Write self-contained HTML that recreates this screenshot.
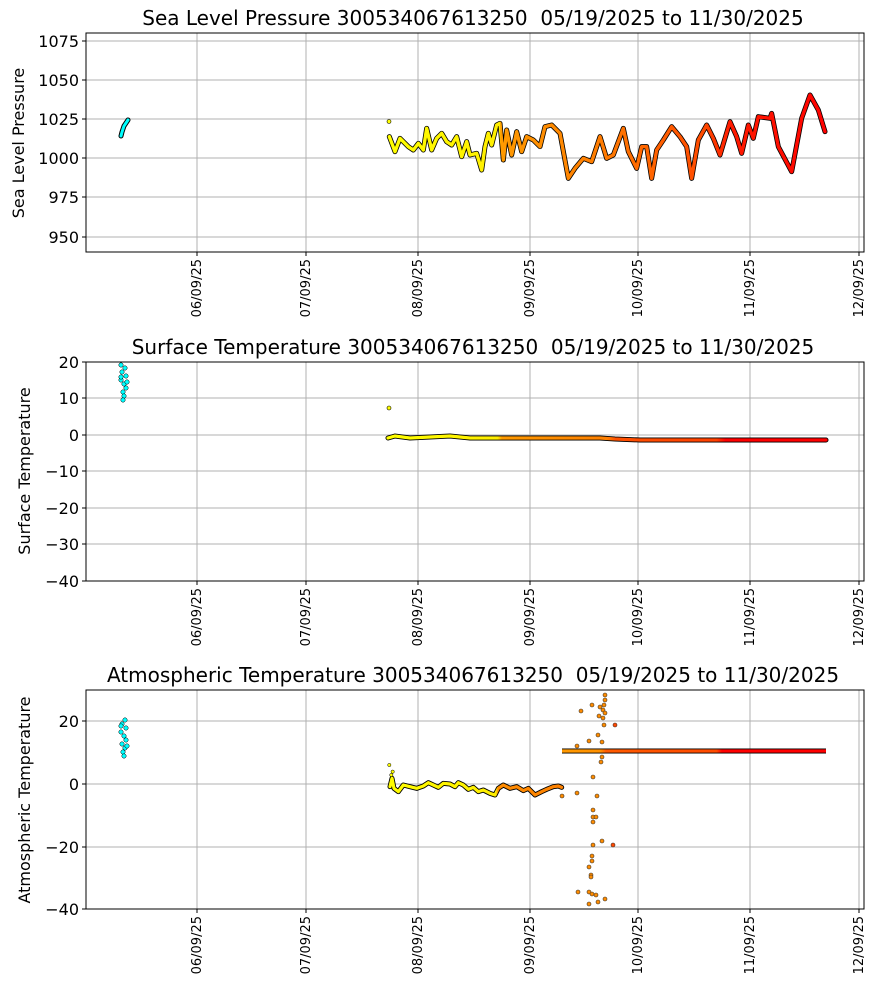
<!DOCTYPE html>
<html><head><meta charset="utf-8"><style>
body{margin:0;background:#fff;}
svg{display:block;font-family:"DejaVu Sans","Liberation Sans",sans-serif;}
.g{stroke:#b0b0b0;stroke-width:1;}
.tk{stroke:#000;stroke-width:1;}
.t{font-size:16px;fill:#000;}
.xt{font-size:13px;fill:#000;}
.ttl{font-size:20px;fill:#000;white-space:pre;}
.yl{font-size:16px;fill:#000;}
</style></head><body>
<svg width="877" height="992" viewBox="0 0 877 992" xmlns="http://www.w3.org/2000/svg" xml:space="preserve">
<defs>
<linearGradient id="cg3" gradientUnits="userSpaceOnUse" x1="560" y1="0" x2="830" y2="0">
<stop offset="0" stop-color="#ff9a00"/><stop offset="0.15" stop-color="#ff9000"/>
<stop offset="0.17" stop-color="#ff5a00"/><stop offset="0.58" stop-color="#ff4a00"/>
<stop offset="0.6" stop-color="#ff0000"/><stop offset="1" stop-color="#ff0000"/></linearGradient>
<linearGradient id="cg1z" gradientUnits="userSpaceOnUse" x1="30" y1="0" x2="1380" y2="0">
<stop offset="0" stop-color="#ffff00"/><stop offset="0.266" stop-color="#ffee00"/>
<stop offset="0.268" stop-color="#ff9a00"/><stop offset="0.5" stop-color="#ff7a00"/>
<stop offset="0.72" stop-color="#ff4a00"/><stop offset="0.78" stop-color="#ff1a00"/>
<stop offset="1" stop-color="#ff0000"/></linearGradient>
<linearGradient id="cg2" gradientUnits="userSpaceOnUse" x1="388" y1="0" x2="826" y2="0">
<stop offset="0" stop-color="#ffff00"/><stop offset="0.25" stop-color="#ffee00"/>
<stop offset="0.26" stop-color="#ff9a00"/><stop offset="0.5" stop-color="#ff8000"/>
<stop offset="0.52" stop-color="#ff5000"/><stop offset="0.75" stop-color="#ff4000"/>
<stop offset="0.77" stop-color="#ff0000"/><stop offset="1" stop-color="#ff0000"/></linearGradient>
<linearGradient id="cg3z" gradientUnits="userSpaceOnUse" x1="0" y1="0" x2="600" y2="0">
<stop offset="0" stop-color="#ffff00"/><stop offset="0.63" stop-color="#ffee00"/>
<stop offset="0.64" stop-color="#ff8c00"/><stop offset="1" stop-color="#ff8000"/></linearGradient>
</defs>
<rect width="877" height="992" fill="#fff"/>

<!-- ===== Plot 1 ===== -->
<g>
<g class="g">
<line x1="197" y1="33" x2="197" y2="252"/><line x1="306" y1="33" x2="306" y2="252"/>
<line x1="418" y1="33" x2="418" y2="252"/><line x1="530" y1="33" x2="530" y2="252"/>
<line x1="638" y1="33" x2="638" y2="252"/><line x1="750" y1="33" x2="750" y2="252"/>
<line x1="859" y1="33" x2="859" y2="252"/>
<line x1="86" y1="41" x2="864" y2="41"/><line x1="86" y1="80" x2="864" y2="80"/>
<line x1="86" y1="119" x2="864" y2="119"/><line x1="86" y1="158" x2="864" y2="158"/>
<line x1="86" y1="197" x2="864" y2="197"/><line x1="86" y1="237" x2="864" y2="237"/>
</g>
<g class="tk">
<line x1="197" y1="252" x2="197" y2="256"/><line x1="306" y1="252" x2="306" y2="256"/>
<line x1="418" y1="252" x2="418" y2="256"/><line x1="530" y1="252" x2="530" y2="256"/>
<line x1="638" y1="252" x2="638" y2="256"/><line x1="750" y1="252" x2="750" y2="256"/>
<line x1="859" y1="252" x2="859" y2="256"/>
<line x1="82" y1="41" x2="86" y2="41"/><line x1="82" y1="80" x2="86" y2="80"/>
<line x1="82" y1="119" x2="86" y2="119"/><line x1="82" y1="158" x2="86" y2="158"/>
<line x1="82" y1="197" x2="86" y2="197"/><line x1="82" y1="237" x2="86" y2="237"/>
</g>
<polyline points="121,136 122,132 123,129 124,126 126,123 128,120" fill="none" stroke="#000" stroke-width="5" stroke-linecap="round"/>
<polyline points="121,136 122,132 123,129 124,126 126,123 128,120" fill="none" stroke="#00ffff" stroke-width="3" stroke-linecap="round"/>
<circle cx="389" cy="121.5" r="2" fill="#ffff00" stroke="#000" stroke-width="0.6"/>
<g transform="translate(370,80) scale(0.33333)">
<polyline fill="none" stroke="#000" stroke-width="5" vector-effect="non-scaling-stroke" stroke-linejoin="round" stroke-linecap="round" points="58,170 75,215 90,175 115,200 130,210 145,190 160,210 170,145 185,210 200,175 215,160 230,185 245,195 260,170 275,230 290,185 300,225 320,220 335,270 345,200 355,160 365,195 380,135 390,130 400,240 410,150 425,225 440,155 455,215 470,170 490,180 510,200 525,140 545,135 570,160 595,295 615,265 640,235 665,245 690,170 710,235 730,225 760,145 775,215 800,265 815,200 830,200 845,295 860,210 880,180 905,140 930,170 950,200 965,295 985,180 1010,135 1030,175 1050,225 1080,125 1100,170 1115,220 1135,135 1150,175 1165,110 1200,115 1205,100 1225,200 1265,275 1295,115 1320,45 1345,90 1365,155"/>
<polyline fill="none" stroke="url(#cg1z)" stroke-width="3.4" vector-effect="non-scaling-stroke" stroke-linejoin="round" stroke-linecap="round" points="58,170 75,215 90,175 115,200 130,210 145,190 160,210 170,145 185,210 200,175 215,160 230,185 245,195 260,170 275,230 290,185 300,225 320,220 335,270 345,200 355,160 365,195 380,135 390,130 400,240 410,150 425,225 440,155 455,215 470,170 490,180 510,200 525,140 545,135 570,160 595,295 615,265 640,235 665,245 690,170 710,235 730,225 760,145 775,215 800,265 815,200 830,200 845,295 860,210 880,180 905,140 930,170 950,200 965,295 985,180 1010,135 1030,175 1050,225 1080,125 1100,170 1115,220 1135,135 1150,175 1165,110 1200,115 1205,100 1225,200 1265,275 1295,115 1320,45 1345,90 1365,155"/>
</g>
<rect x="86" y="33" width="778" height="219" fill="none" stroke="#000" stroke-width="1"/>
<g class="t" text-anchor="end">
<text x="79" y="47">1075</text><text x="79" y="86">1050</text><text x="79" y="125">1025</text>
<text x="79" y="164">1000</text><text x="79" y="203">975</text><text x="79" y="243">950</text>
</g>
<text class="yl" transform="translate(24,143) rotate(-90)" text-anchor="middle">Sea Level Pressure</text>
<text class="ttl" x="473" y="25" text-anchor="middle">Sea Level Pressure 300534067613250  05/19/2025 to 11/30/2025</text>
<g class="xt" text-anchor="end">
<text transform="translate(201,259) rotate(-90)">06/09/25</text>
<text transform="translate(310,259) rotate(-90)">07/09/25</text>
<text transform="translate(422,259) rotate(-90)">08/09/25</text>
<text transform="translate(534,259) rotate(-90)">09/09/25</text>
<text transform="translate(642,259) rotate(-90)">10/09/25</text>
<text transform="translate(754,259) rotate(-90)">11/09/25</text>
<text transform="translate(863,259) rotate(-90)">12/09/25</text>
</g>
</g>

<!-- ===== Plot 2 ===== -->
<g>
<g class="g">
<line x1="197" y1="362" x2="197" y2="581"/><line x1="306" y1="362" x2="306" y2="581"/>
<line x1="418" y1="362" x2="418" y2="581"/><line x1="530" y1="362" x2="530" y2="581"/>
<line x1="638" y1="362" x2="638" y2="581"/><line x1="750" y1="362" x2="750" y2="581"/>
<line x1="859" y1="362" x2="859" y2="581"/>
<line x1="86" y1="398" x2="864" y2="398"/><line x1="86" y1="435" x2="864" y2="435"/>
<line x1="86" y1="471" x2="864" y2="471"/><line x1="86" y1="508" x2="864" y2="508"/>
<line x1="86" y1="544" x2="864" y2="544"/>
</g>
<g class="tk">
<line x1="197" y1="581" x2="197" y2="585"/><line x1="306" y1="581" x2="306" y2="585"/>
<line x1="418" y1="581" x2="418" y2="585"/><line x1="530" y1="581" x2="530" y2="585"/>
<line x1="638" y1="581" x2="638" y2="585"/><line x1="750" y1="581" x2="750" y2="585"/>
<line x1="859" y1="581" x2="859" y2="585"/>
<line x1="82" y1="362" x2="86" y2="362"/><line x1="82" y1="398" x2="86" y2="398"/>
<line x1="82" y1="435" x2="86" y2="435"/><line x1="82" y1="471" x2="86" y2="471"/>
<line x1="82" y1="508" x2="86" y2="508"/><line x1="82" y1="544" x2="86" y2="544"/>
<line x1="82" y1="581" x2="86" y2="581"/>
</g>
<g fill="#00ffff" stroke="#000" stroke-width="0.5">
<circle cx="121" cy="365" r="2.2"/><circle cx="125" cy="368" r="2.2"/><circle cx="122" cy="372" r="2.2"/>
<circle cx="126" cy="376" r="2.2"/><circle cx="121" cy="380" r="2.2"/><circle cx="124" cy="384" r="2.2"/>
<circle cx="126" cy="388" r="2.2"/><circle cx="123" cy="392" r="2.2"/><circle cx="124" cy="396" r="2.2"/>
<circle cx="123" cy="400" r="2.2"/><circle cx="121" cy="377" r="2.2"/><circle cx="127" cy="382" r="2.2"/>
</g>
<circle cx="389" cy="408" r="2" fill="#ffff00" stroke="#000" stroke-width="0.6"/>
<polyline points="388,438 395,436 410,438 430,437 450,436 470,438 500,438 530,438 560,438 600,438 615,439 640,440 700,440 760,440 826,440" fill="none" stroke="#000" stroke-width="5" stroke-linecap="round"/>
<polyline points="388,438 395,436 410,438 430,437 450,436 470,438 500,438 530,438 560,438 600,438 615,439 640,440 700,440 760,440 826,440" fill="none" stroke="url(#cg2)" stroke-width="3.2" stroke-linecap="round"/>
<rect x="86" y="362" width="778" height="219" fill="none" stroke="#000" stroke-width="1"/>
<g class="t" text-anchor="end">
<text x="79" y="368">20</text><text x="79" y="404">10</text><text x="79" y="441">0</text>
<text x="79" y="477">−10</text><text x="79" y="514">−20</text><text x="79" y="550">−30</text><text x="79" y="587">−40</text>
</g>
<text class="yl" transform="translate(30,471) rotate(-90)" text-anchor="middle">Surface Temperature</text>
<text class="ttl" x="473" y="354" text-anchor="middle">Surface Temperature 300534067613250  05/19/2025 to 11/30/2025</text>
<g class="xt" text-anchor="end">
<text transform="translate(201,588) rotate(-90)">06/09/25</text>
<text transform="translate(310,588) rotate(-90)">07/09/25</text>
<text transform="translate(422,588) rotate(-90)">08/09/25</text>
<text transform="translate(534,588) rotate(-90)">09/09/25</text>
<text transform="translate(642,588) rotate(-90)">10/09/25</text>
<text transform="translate(754,588) rotate(-90)">11/09/25</text>
<text transform="translate(863,588) rotate(-90)">12/09/25</text>
</g>
</g>

<!-- ===== Plot 3 ===== -->
<g>
<g class="g">
<line x1="197" y1="690" x2="197" y2="909"/><line x1="306" y1="690" x2="306" y2="909"/>
<line x1="418" y1="690" x2="418" y2="909"/><line x1="530" y1="690" x2="530" y2="909"/>
<line x1="638" y1="690" x2="638" y2="909"/><line x1="750" y1="690" x2="750" y2="909"/>
<line x1="859" y1="690" x2="859" y2="909"/>
<line x1="86" y1="721" x2="864" y2="721"/><line x1="86" y1="784" x2="864" y2="784"/>
<line x1="86" y1="847" x2="864" y2="847"/>
</g>
<g class="tk">
<line x1="197" y1="909" x2="197" y2="913"/><line x1="306" y1="909" x2="306" y2="913"/>
<line x1="418" y1="909" x2="418" y2="913"/><line x1="530" y1="909" x2="530" y2="913"/>
<line x1="638" y1="909" x2="638" y2="913"/><line x1="750" y1="909" x2="750" y2="913"/>
<line x1="859" y1="909" x2="859" y2="913"/>
<line x1="82" y1="721" x2="86" y2="721"/><line x1="82" y1="784" x2="86" y2="784"/>
<line x1="82" y1="847" x2="86" y2="847"/><line x1="82" y1="909" x2="86" y2="909"/>
</g>
<g fill="#00ffff" stroke="#000" stroke-width="0.5">
<circle cx="125" cy="720" r="2.2"/><circle cx="122" cy="724" r="2.2"/><circle cx="126" cy="728" r="2.2"/>
<circle cx="121" cy="732" r="2.2"/><circle cx="124" cy="736" r="2.2"/><circle cx="126" cy="740" r="2.2"/>
<circle cx="122" cy="744" r="2.2"/><circle cx="125" cy="748" r="2.2"/><circle cx="123" cy="752" r="2.2"/>
<circle cx="124" cy="756" r="2.2"/><circle cx="121" cy="726" r="2.2"/><circle cx="127" cy="746" r="2.2"/>
</g>
<g transform="translate(370,760) scale(0.33333)">
<polyline fill="none" stroke="#000" stroke-width="5" vector-effect="non-scaling-stroke" stroke-linejoin="round" stroke-linecap="round" points="60,80 66,55 72,85 85,95 100,75 120,80 140,85 160,78 175,68 190,75 205,82 220,70 240,72 255,80 265,68 280,75 295,88 310,82 325,95 340,90 360,100 375,105 385,85 400,75 420,85 440,80 460,92 475,85 495,105 515,95 530,88 550,80 565,78 575,82"/>
<polyline fill="none" stroke="url(#cg3z)" stroke-width="3.2" vector-effect="non-scaling-stroke" stroke-linejoin="round" stroke-linecap="round" points="60,80 66,55 72,85 85,95 100,75 120,80 140,85 160,78 175,68 190,75 205,82 220,70 240,72 255,80 265,68 280,75 295,88 310,82 325,95 340,90 360,100 375,105 385,85 400,75 420,85 440,80 460,92 475,85 495,105 515,95 530,88 550,80 565,78 575,82"/>
<g fill="#ffff00" stroke="#000" stroke-width="1.5"><circle cx="58" cy="15" r="5"/><circle cx="68" cy="35" r="5"/><circle cx="64" cy="45" r="5"/></g>
<circle cx="577" cy="108" r="5" fill="#ff8c00" stroke="#000" stroke-width="1.5"/>
</g>
<polyline points="562,751 826,751" fill="none" stroke="#000" stroke-width="5"/>
<polyline points="562,751 826,751" fill="none" stroke="url(#cg3)" stroke-width="3.2"/>
<g fill="#ff8c00" stroke="#333" stroke-width="0.6">
<circle cx="605" cy="695" r="2"/><circle cx="605" cy="700" r="2"/><circle cx="604" cy="705" r="2"/>
<circle cx="603" cy="710" r="2"/><circle cx="592" cy="705" r="2"/><circle cx="581" cy="711" r="2"/>
<circle cx="600" cy="707" r="2"/><circle cx="605" cy="713" r="2"/><circle cx="599" cy="716" r="2"/>
<circle cx="603" cy="718" r="2"/><circle cx="604" cy="725" r="2"/><circle cx="598" cy="735" r="2"/>
<circle cx="589" cy="741" r="2"/><circle cx="602" cy="742" r="2"/><circle cx="577" cy="746" r="2"/>
<circle cx="602" cy="757" r="2"/><circle cx="601" cy="762" r="2"/><circle cx="593" cy="777" r="2"/>
<circle cx="577" cy="793" r="2"/><circle cx="562" cy="796" r="2"/><circle cx="597" cy="796" r="2"/>
<circle cx="593" cy="810" r="2"/><circle cx="593" cy="817" r="2"/><circle cx="596" cy="817" r="2"/>
<circle cx="593" cy="822" r="2"/><circle cx="602" cy="841" r="2"/><circle cx="593" cy="845" r="2"/>
<circle cx="592" cy="856" r="2"/><circle cx="592" cy="861" r="2"/><circle cx="589" cy="867" r="2"/>
<circle cx="591" cy="875" r="2"/><circle cx="591" cy="877" r="2"/><circle cx="578" cy="892" r="2"/>
<circle cx="589" cy="892" r="2"/><circle cx="592" cy="894" r="2"/><circle cx="596" cy="895" r="2"/>
<circle cx="605" cy="899" r="2"/><circle cx="589" cy="904" r="2"/><circle cx="598" cy="902" r="2"/>
</g>
<g fill="#ff4a00" stroke="#333" stroke-width="0.6"><circle cx="615" cy="725" r="2"/><circle cx="613" cy="845" r="2"/></g>
<rect x="86" y="690" width="778" height="219" fill="none" stroke="#000" stroke-width="1"/>
<g class="t" text-anchor="end">
<text x="79" y="727">20</text><text x="79" y="790">0</text><text x="79" y="853">−20</text><text x="79" y="915">−40</text>
</g>
<text class="yl" transform="translate(30,800) rotate(-90)" text-anchor="middle">Atmospheric Temperature</text>
<text class="ttl" x="473" y="682" text-anchor="middle">Atmospheric Temperature 300534067613250  05/19/2025 to 11/30/2025</text>
<g class="xt" text-anchor="end">
<text transform="translate(201,916) rotate(-90)">06/09/25</text>
<text transform="translate(310,916) rotate(-90)">07/09/25</text>
<text transform="translate(422,916) rotate(-90)">08/09/25</text>
<text transform="translate(534,916) rotate(-90)">09/09/25</text>
<text transform="translate(642,916) rotate(-90)">10/09/25</text>
<text transform="translate(754,916) rotate(-90)">11/09/25</text>
<text transform="translate(863,916) rotate(-90)">12/09/25</text>
</g>
</g>
</svg>
</body></html>
